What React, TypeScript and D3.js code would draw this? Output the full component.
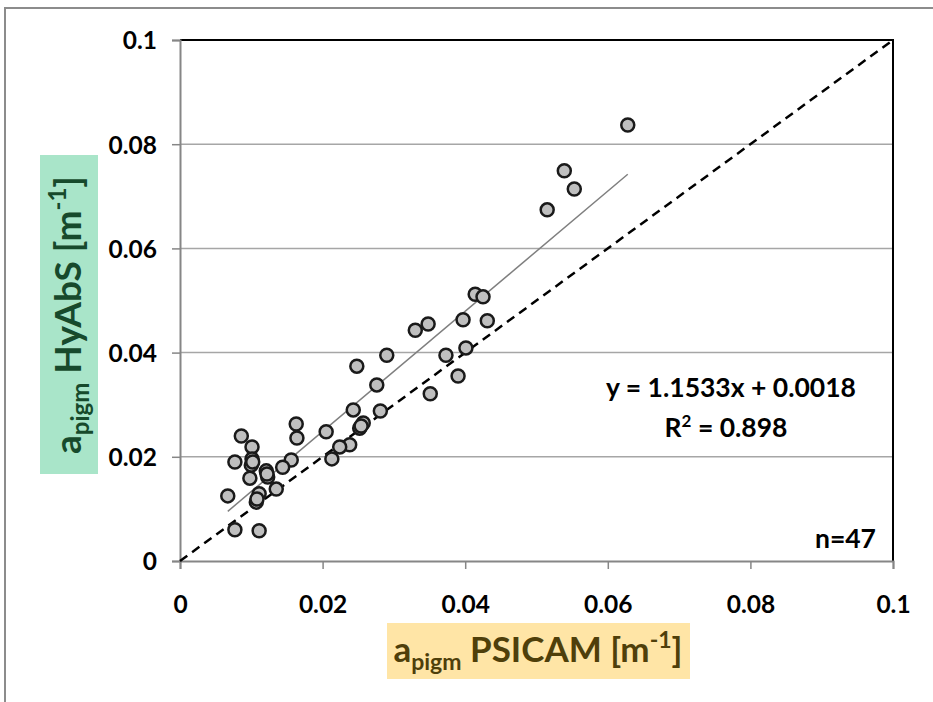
import React, { useEffect, useRef } from 'react';
import * as d3 from 'd3';

// PSICAM values (x) and HyAbS values (y), m^-1
const psicam = [
  0.0628, 0.0539, 0.0553, 0.0515, 0.0414, 0.0425, 0.0431, 0.0397, 0.0401, 0.0373,
  0.0390, 0.0351, 0.0330, 0.0348, 0.0290, 0.0248, 0.0276, 0.0281, 0.0243, 0.0252,
  0.0257, 0.0238, 0.0224, 0.0205, 0.0213, 0.0163, 0.0164, 0.0156, 0.0144, 0.0135,
  0.0123, 0.0121, 0.0111, 0.0107, 0.0111, 0.0101, 0.0101, 0.0100, 0.0098, 0.0086,
  0.0077, 0.0077, 0.0067, 0.0254, 0.0102, 0.0122, 0.0108,
];
const hyabs = [
  0.0837, 0.0749, 0.0714, 0.0674, 0.0512, 0.0507, 0.0461, 0.0463, 0.0409, 0.0395,
  0.0355, 0.0321, 0.0443, 0.0455, 0.0395, 0.0374, 0.0338, 0.0288, 0.0290, 0.0255,
  0.0265, 0.0223, 0.0219, 0.0248, 0.0196, 0.0263, 0.0236, 0.0194, 0.0180, 0.0138,
  0.0161, 0.0173, 0.0129, 0.0113, 0.0058, 0.0219, 0.0196, 0.0184, 0.0159, 0.0240,
  0.0190, 0.0060, 0.0125, 0.0259, 0.0190, 0.0167, 0.0119,
];
const ticks = [0, 0.02, 0.04, 0.06, 0.08, 0.1];
const slope = 1.1533;
const intercept = 0.0018;

const FONT = 'Lato, "Open Sans", sans-serif';

const App = () => {
  const svgRef = useRef<SVGSVGElement>(null);

  useEffect(() => {
    const svg = d3.select(svgRef.current);
    svg.selectAll('*').remove();

    const width = 933;
    const height = 702;
    const margin = { top: 40, right: 40, bottom: 141, left: 180 };

    const x = d3.scaleLinear().domain([0, 0.1]).range([margin.left, width - margin.right]);
    const y = d3.scaleLinear().domain([0, 0.1]).range([height - margin.bottom, margin.top]);

    // outer chart frame
    svg.append('rect')
      .attr('x', 5).attr('y', 8)
      .attr('width', width + 20).attr('height', height + 20)
      .attr('fill', 'white')
      .attr('stroke', '#8c8c8c')
      .attr('stroke-width', 2);

    // horizontal gridlines
    svg.append('g')
      .selectAll('line')
      .data(ticks.slice(1, -1))
      .join('line')
      .attr('x1', x(0)).attr('x2', x(0.1))
      .attr('y1', d => y(d)).attr('y2', d => y(d))
      .attr('stroke', '#a6a6a6')
      .attr('stroke-width', 1.5);

    // plot area border (top + right black)
    svg.append('path')
      .attr('d', `M${x(0)},${y(0.1)}H${x(0.1)}V${y(0)}`)
      .attr('fill', 'none')
      .attr('stroke', 'black')
      .attr('stroke-width', 2);

    // axes
    const yAxis = svg.append('g')
      .attr('transform', `translate(${x(0)},0)`)
      .call(d3.axisLeft(y).tickValues(ticks).tickSize(8).tickFormat(d => String(d)));
    const xAxis = svg.append('g')
      .attr('transform', `translate(0,${y(0)})`)
      .call(d3.axisBottom(x).tickValues(ticks).tickSize(8).tickFormat(d => String(d)));

    [yAxis, xAxis].forEach(g => {
      g.select('.domain').attr('stroke', '#868686').attr('stroke-width', 2);
      g.selectAll('.tick line').attr('stroke', '#868686').attr('stroke-width', 1.5);
      g.selectAll('.tick text')
        .attr('fill', 'black')
        .style('font-family', FONT)
        .style('font-weight', 'bold')
        .style('font-size', '24.5px');
    });
    yAxis.selectAll('.tick text').attr('x', -23).attr('dy', '0.36em');
    xAxis.selectAll('.tick text').attr('y', 52).attr('dy', '0');

    // 1:1 line
    svg.append('line')
      .attr('x1', x(0)).attr('y1', y(0))
      .attr('x2', x(0.1)).attr('y2', y(0.1))
      .attr('stroke', 'black')
      .attr('stroke-width', 2.5)
      .attr('stroke-dasharray', '9,6');

    // regression line
    const [xmin, xmax] = d3.extent(psicam) as [number, number];
    svg.append('line')
      .attr('x1', x(xmin)).attr('y1', y(slope * xmin + intercept))
      .attr('x2', x(xmax)).attr('y2', y(slope * xmax + intercept))
      .attr('stroke', '#7f7f7f')
      .attr('stroke-width', 1.5);

    // points
    svg.append('g')
      .selectAll('circle')
      .data(psicam.map((v, i) => [v, hyabs[i]]))
      .join('circle')
      .attr('cx', d => x(d[0]))
      .attr('cy', d => y(d[1]))
      .attr('r', 6.5)
      .attr('fill', '#bfbfbf')
      .attr('stroke', '#1a1a1a')
      .attr('stroke-width', 2.5);

    // annotations
    const ann = svg.append('g')
      .style('font-family', FONT)
      .style('font-weight', 'bold')
      .style('font-size', '26.5px')
      .attr('fill', 'black');
    ann.append('text')
      .attr('x', 731).attr('y', 397)
      .attr('text-anchor', 'middle')
      .text('y = 1.1533x + 0.0018');
    const r2 = ann.append('text')
      .attr('x', 726).attr('y', 437)
      .attr('text-anchor', 'middle');
    r2.append('tspan').text('R');
    r2.append('tspan').attr('font-size', '17px').attr('dy', -10).text('2');
    r2.append('tspan').attr('dy', 10).text(' = 0.898');
    ann.append('text')
      .attr('x', 876).attr('y', 548)
      .attr('text-anchor', 'end')
      .text('n=47');

    // x axis title
    svg.append('rect')
      .attr('x', 387).attr('y', 623)
      .attr('width', 303).attr('height', 56)
      .attr('fill', '#ffe5a6');
    const xt = svg.append('text')
      .attr('x', 538).attr('y', 662)
      .attr('text-anchor', 'middle')
      .attr('fill', '#4f3f0a')
      .style('font-family', FONT)
      .style('font-weight', 'bold')
      .style('font-size', '35px');
    xt.append('tspan').text('a');
    xt.append('tspan').attr('font-size', '23px').attr('dy', 8).text('pigm');
    xt.append('tspan').attr('dy', -8).text(' PSICAM [m');
    xt.append('tspan').attr('font-size', '23px').attr('dy', -14).text('-1');
    xt.append('tspan').attr('dy', 14).text(']');

    // y axis title
    svg.append('rect')
      .attr('x', 40).attr('y', 155)
      .attr('width', 58).attr('height', 319)
      .attr('fill', '#a9e5c9');
    const yt = svg.append('text')
      .attr('transform', 'translate(81,315) rotate(-90)')
      .attr('text-anchor', 'middle')
      .attr('fill', '#174a2c')
      .style('font-family', FONT)
      .style('font-weight', 'bold')
      .style('font-size', '37px');
    yt.append('tspan').text('a');
    yt.append('tspan').attr('font-size', '24px').attr('dy', 8).text('pigm');
    yt.append('tspan').attr('dy', -8).text(' HyAbS [m');
    yt.append('tspan').attr('font-size', '24px').attr('dy', -15).text('-1');
    yt.append('tspan').attr('dy', 15).text(']');
  }, []);

  return (
    <svg
      ref={svgRef}
      width={933}
      height={702}
      style={{ position: 'absolute', left: 0, top: 0 }}
    ></svg>
  );
};

export default App;
